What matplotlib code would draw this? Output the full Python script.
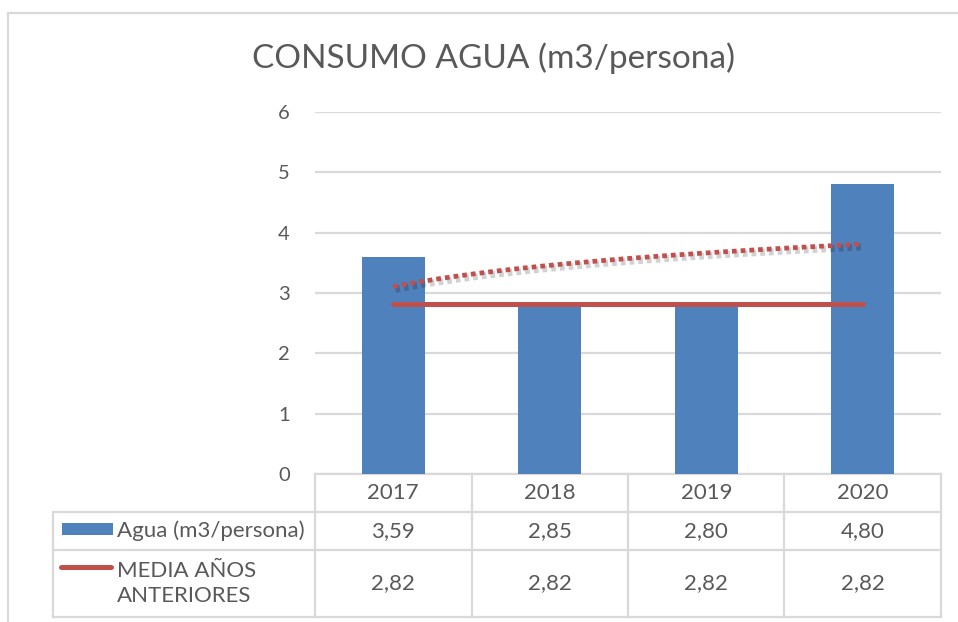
import numpy as np
import matplotlib
matplotlib.use("Agg")
import matplotlib.pyplot as plt
from matplotlib.lines import Line2D
from matplotlib.patches import Rectangle
import matplotlib.patheffects as pe

# ---- data ----
years = ["2017", "2018", "2019", "2020"]
agua = [3.59, 2.85, 2.80, 4.80]
media = [2.82, 2.82, 2.82, 2.82]
title = "CONSUMO AGUA (m3/persona)"
series_names = ["Agua (m3/persona)", "MEDIA AÑOS\nANTERIORES"]
y_ticks = [0, 1, 2, 3, 4, 5, 6]

BLUE = "#4F81BD"
RED = "#C0504D"
GRID = "#D9D9D9"
TXT = "#595959"
FONT = "Lato"

plt.rcParams['font.family'] = [FONT, 'DejaVu Sans']

W, H = 958, 622
fig = plt.figure(figsize=(W / 100, H / 100), dpi=100)

def fx(px):
    return px / W

def fy(py):
    return 1 - py / H

ax_l, ax_r, ax_t, ax_b = 315, 941, 112, 474
ax = fig.add_axes([fx(ax_l), fy(ax_b), fx(ax_r - ax_l), (ax_b - ax_t) / H])

x = np.arange(len(years))
ax.bar(x, agua, width=0.4, color=BLUE, zorder=2)
ax.plot(x, media, color=RED, lw=3.6, solid_capstyle='round', zorder=3)

# logarithmic trendline of the bar series (as Excel computes it)
b, a = np.polyfit(np.log(x + 1), agua, 1)
xt = np.linspace(0, len(years) - 1, 200)
yt = a + b * np.log(xt + 1)
ax.plot(xt, yt, color=RED, lw=3.4, linestyle=(0, (1.0, 0.85)), dash_capstyle='butt', zorder=4,
        path_effects=[pe.SimpleLineShadow(offset=(1.5, -2), alpha=0.18, shadow_color='black',
                                          linewidth=5), pe.Normal()])

ax.set_xlim(-0.5, len(years) - 0.5)
ax.set_ylim(0, 6)
ax.set_yticks(y_ticks)
ax.set_yticklabels([str(v) for v in y_ticks])
ax.set_xticks([])
ax.tick_params(axis='y', length=0, pad=18, labelsize=14.5, labelcolor=TXT)
for s in ax.spines.values():
    s.set_visible(False)
ax.grid(axis='y', color=GRID, lw=1.6, zorder=0)
ax.set_axisbelow(True)

# ---- data table ----
ah = ax_b - ax_t  # axes height in px
aw = ax_r - ax_l

def axy(py):
    return (ax_b - py) / ah

def axx(px):
    return (px - ax_l) / aw

rows = [474, 512, 550, 617]
left_px = 53
n = len(years)
col_x = [i / n for i in range(n + 1)]
lk = dict(color=GRID, lw=1.6, transform=ax.transAxes, clip_on=False, zorder=1)

# horizontal lines
ax.add_line(Line2D([0, 1], [axy(rows[0])] * 2, **lk))
for r in rows[1:]:
    ax.add_line(Line2D([axx(left_px), 1], [axy(r)] * 2, **lk))
# vertical lines
for cx in col_x:
    ax.add_line(Line2D([cx, cx], [axy(rows[0]), axy(rows[-1])], **lk))
ax.add_line(Line2D([axx(left_px)] * 2, [axy(rows[1]), axy(rows[-1])], **lk))

fs_tab = 16
def fmt(v):
    return f"{v:.2f}".replace(".", ",")

for i, yr in enumerate(years):
    cx = (i + 0.5) / n
    ax.text(cx, axy((rows[0] + rows[1]) / 2), yr, transform=ax.transAxes, ha='center', va='center',
            fontsize=fs_tab, color=TXT)
    ax.text(cx, axy((rows[1] + rows[2]) / 2), fmt(agua[i]), transform=ax.transAxes, ha='center', va='center',
            fontsize=fs_tab, color=TXT)
    ax.text(cx, axy((rows[2] + rows[3]) / 2), fmt(media[i]), transform=ax.transAxes, ha='center', va='center',
            fontsize=fs_tab, color=TXT)

# legend keys and series names
fig.add_artist(Rectangle((fx(62), fy(535)), fx(113 - 62), (535 - 523) / H, color=BLUE, lw=0))
fig.add_artist(Line2D([fx(61), fx(111)], [fy(567)] * 2, color=RED, lw=3.6, solid_capstyle='round'))
fig.text(fx(117), fy((rows[1] + rows[2]) / 2), series_names[0], ha='left', va='center',
         fontsize=fs_tab, color=TXT)
fig.text(fx(117), fy((rows[2] + rows[3]) / 2), series_names[1], ha='left', va='center',
         fontsize=fs_tab, color=TXT, linespacing=1.3)

# title
fig.text(fx(494), fy(58), title, ha='center', va='center', fontsize=24, color=TXT)

# outer frame of the chart
fig.add_artist(Line2D([fx(8), fx(8)], [fy(12.5), 0], color=GRID, lw=1.6))
fig.add_artist(Line2D([fx(8), 1], [fy(12.5)] * 2, color=GRID, lw=1.6))

fig.savefig("out.png", dpi=100, facecolor='white')
